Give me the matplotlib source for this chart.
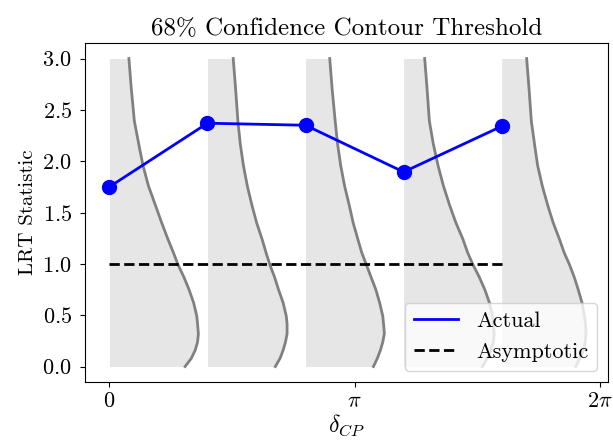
import numpy as np
import matplotlib
matplotlib.use("Agg")
import matplotlib.pyplot as plt
from matplotlib.lines import Line2D

plt.rcParams['font.family'] = 'serif'
plt.rcParams['font.serif'] = ['cmr10']
plt.rcParams['mathtext.fontset'] = 'cm'
plt.rcParams['axes.formatter.use_mathtext'] = True
plt.rcParams['axes.unicode_minus'] = False

# delta_CP test points
delta_cp = np.array([0, 2, 4, 6, 8]) * np.pi / 5
lrt_actual = [1.75, 2.37, 2.35, 1.895, 2.34]
lrt_asym = [1.0, 1.0, 1.0, 1.0, 1.0]

# distribution curves (width), one per point
dist_y = [0.0, 0.08, 0.16, 0.24, 0.32, 0.41, 0.49, 0.62, 0.75, 0.87, 0.99,
          1.11, 1.24, 1.40, 1.57, 1.76, 1.96, 2.17, 2.39, 2.71, 3.0]
dist_w = [
    [0.97, 1.05, 1.10, 1.13, 1.14, 1.13, 1.12, 1.08, 1.02, 0.955, 0.88,
     0.82, 0.75, 0.67, 0.59, 0.50, 0.43, 0.375, 0.32, 0.28, 0.25],
    [0.87, 0.93, 0.97, 1.00, 1.02, 1.02, 1.01, 0.97, 0.91, 0.86, 0.80,
     0.75, 0.70, 0.63, 0.57, 0.51, 0.46, 0.42, 0.39, 0.36, 0.33],
    [0.87, 0.92, 0.96, 0.99, 1.01, 1.00, 0.99, 0.95, 0.90, 0.84, 0.78,
     0.72, 0.67, 0.61, 0.56, 0.50, 0.45, 0.41, 0.38, 0.34, 0.31],
    [1.01, 1.07, 1.12, 1.15, 1.16, 1.15, 1.14, 1.10, 1.04, 0.97, 0.89,
     0.82, 0.76, 0.67, 0.59, 0.51, 0.44, 0.38, 0.33, 0.30, 0.27],
    [0.95, 1.00, 1.05, 1.07, 1.08, 1.075, 1.06, 1.03, 0.98, 0.93, 0.87,
     0.80, 0.74, 0.66, 0.59, 0.52, 0.46, 0.42, 0.38, 0.35, 0.32],
]

fig = plt.figure(figsize=(6.13, 4.4), dpi=100)
ax = fig.add_axes([0.139, 0.132, 0.853, 0.77])

for x0, w in zip(delta_cp, dist_w):
    xs = x0 + np.array(w)
    ax.fill_betweenx(dist_y, x0, xs, color='0.9', lw=0, zorder=1)
    ax.plot(xs, dist_y, color='gray', lw=2, zorder=2)

ax.plot(delta_cp, lrt_asym, 'k--', lw=2, zorder=3)
ax.plot(delta_cp, lrt_actual, color='blue', lw=2, marker='o', ms=10, zorder=4)

ax.set_xlim(-0.31, 6.39)
ax.set_xticks([0, np.pi, 2 * np.pi])
ax.set_xticklabels([r'$0$', r'$\pi$', r'$2\pi$'])
ax.set_yticks(np.arange(0, 3.01, 0.5))
ax.tick_params(labelsize=16)
ax.tick_params(axis='y', pad=6)
ax.set_xlabel(r'$\delta_{CP}$', fontsize=17, labelpad=1)
ax.set_ylabel('LRT Statistic', fontsize=15, labelpad=4)
ax.set_title('68% Confidence Contour Threshold', fontsize=18)

handles = [Line2D([], [], color='blue', lw=2), Line2D([], [], color='k', ls='--', lw=2)]
ax.legend(handles, ['Actual', 'Asymptotic'], loc='lower right', fontsize=16)

fig.savefig('out.png', dpi=100)
